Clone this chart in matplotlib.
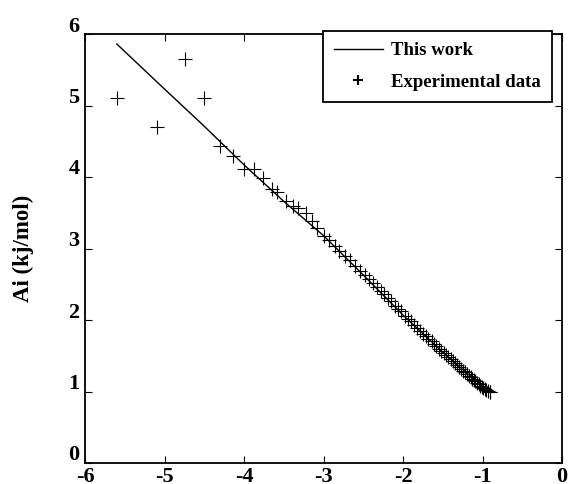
import matplotlib
matplotlib.use("Agg")
import matplotlib.pyplot as plt
import matplotlib.transforms as mtransforms

plt.rcParams['font.family'] = ['Liberation Serif', 'DejaVu Serif']
plt.rcParams['font.weight'] = 'bold'
plt.rcParams['axes.unicode_minus'] = False

# model curve ("This work")
fit_x = [-5.60, -5.0, -4.5, -4.0, -3.5, -3.0, -2.5, -2.0, -1.5, -1.2, -1.0, -0.86]
fit_y = [5.86, 5.23, 4.71, 4.17, 3.66, 3.18, 2.63, 2.07, 1.55, 1.26, 1.08, 1.00]

# experimental points
exp_x = [-5.60, -5.09, -4.74, -4.50, -4.30, -4.14, -4.00, -3.87, -3.76, -3.65,
         -3.58, -3.47, -3.38, -3.32, -3.22, -3.14, -3.08, -3.00, -2.93, -2.86,
         -2.81, -2.73, -2.67, -2.60, -2.54, -2.48, -2.43, -2.38, -2.33, -2.28,
         -2.24, -2.19, -2.15, -2.10, -2.06, -2.02, -1.98, -1.94, -1.90, -1.86,
         -1.82, -1.78, -1.75, -1.71, -1.68, -1.64, -1.61, -1.58, -1.55, -1.52,
         -1.49, -1.46, -1.43, -1.40, -1.37, -1.35, -1.32, -1.29, -1.27, -1.24,
         -1.22, -1.19, -1.17, -1.15, -1.13, -1.11, -1.09, -1.07, -1.05, -1.03,
         -1.01, -0.99, -0.97, -0.95, -0.93, -0.91, -0.90]
exp_y = [5.11, 4.70, 5.65, 5.11, 4.43, 4.29, 4.11, 4.11, 3.98, 3.83,
         3.79, 3.66, 3.59, 3.56, 3.49, 3.38, 3.28, 3.17, 3.12, 3.03,
         2.97, 2.89, 2.84, 2.75, 2.69, 2.63, 2.57, 2.52, 2.46, 2.41,
         2.36, 2.31, 2.26, 2.20, 2.16, 2.12, 2.06, 2.02, 1.98, 1.93,
         1.89, 1.85, 1.81, 1.77, 1.74, 1.70, 1.66, 1.63, 1.60, 1.57,
         1.54, 1.51, 1.48, 1.45, 1.42, 1.40, 1.37, 1.34, 1.32, 1.29,
         1.27, 1.24, 1.22, 1.20, 1.18, 1.16, 1.14, 1.12, 1.10, 1.08,
         1.06, 1.05, 1.03, 1.02, 1.01, 1.00, 0.99]

x_ticks = [-6, -5, -4, -3, -2, -1, 0]
y_ticks = [0, 1, 2, 3, 4, 5, 6]

fig = plt.figure(figsize=(5.69, 4.84), dpi=100)
ax = fig.add_axes([85 / 569, 21 / 484, 477 / 569, 429 / 484])

ax.plot(fit_x, fit_y, color='k', linewidth=1.0, label='This work')
ax.plot(exp_x, exp_y, linestyle='none', marker='+', color='k',
        markersize=10, markeredgewidth=0.8, label='Experimental data')

ax.set_xlim(-6, 0)
ax.set_ylim(0, 6)
ax.set_xticks(x_ticks)
ax.set_yticks(y_ticks)
ax.tick_params(direction='in', length=5, width=0.8, top=True, right=True,
               labelsize=16)
ax.tick_params(axis='x', pad=3)
ax.tick_params(axis='y', pad=4)
for s in ax.spines.values():
    s.set_linewidth(1.3)

# y tick labels sit a bit above their ticks in the original
shift = mtransforms.ScaledTranslation(0, 0.10, fig.dpi_scale_trans)
for lab in ax.get_yticklabels():
    lab.set_transform(lab.get_transform() + shift)

ax.set_ylabel('Ai (kj/mol)', fontsize=16.5, fontweight='bold')
ax.yaxis.set_label_coords(-0.107, 0.5)

leg = ax.legend(loc='upper right', bbox_to_anchor=(0.979, 1.007),
                fontsize=13.5, frameon=True, fancybox=False, framealpha=1,
                edgecolor='k', handlelength=2.6, handletextpad=0.45,
                labelspacing=0.75, borderpad=0.6, borderaxespad=0,
                markerscale=0.7)
leg.get_frame().set_linewidth(1.3)
leg.legend_handles[1].set_markeredgewidth(1.5)

fig.savefig('out.png', dpi=100)
